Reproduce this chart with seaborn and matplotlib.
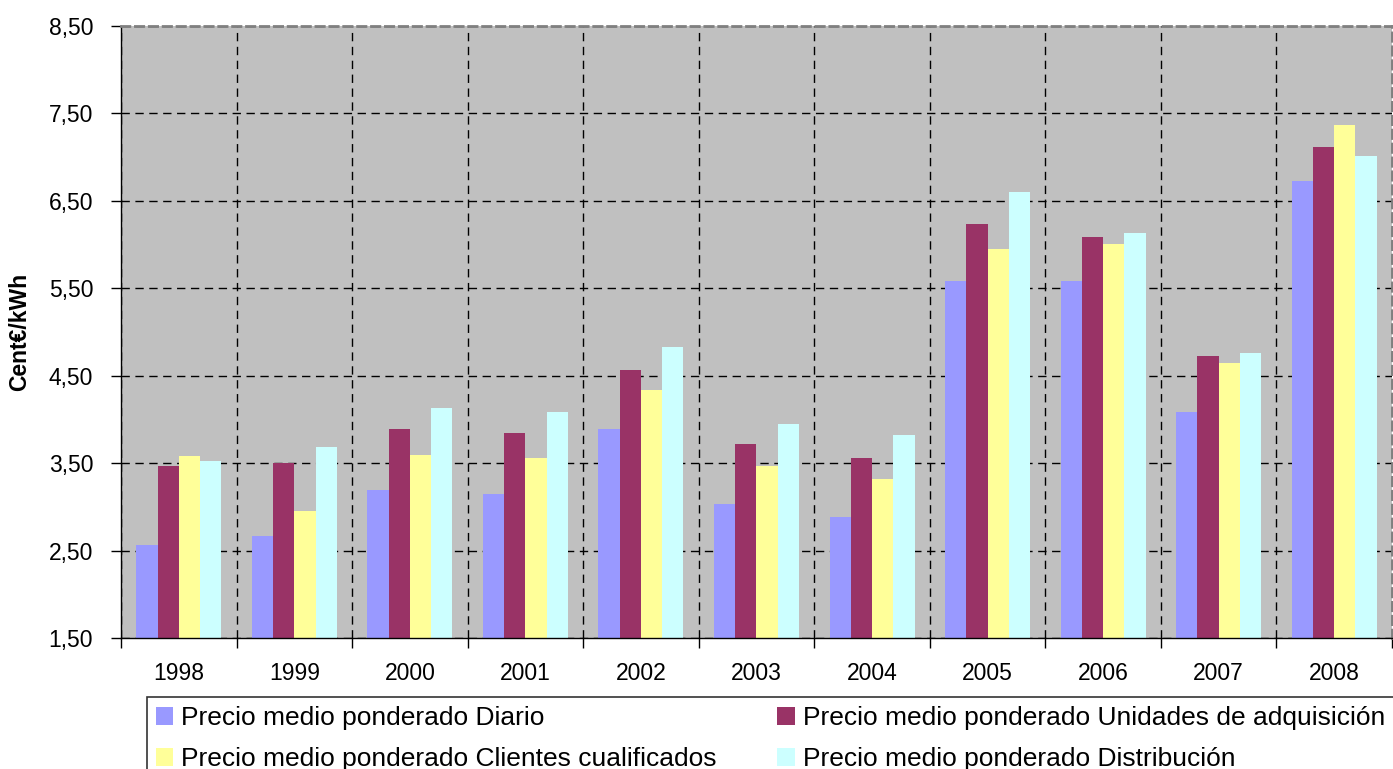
import pandas as pd
import seaborn as sns
import matplotlib.pyplot as plt
from matplotlib.ticker import FuncFormatter, FixedLocator

# Data (cent€/kWh)
years = ['1998', '1999', '2000', '2001', '2002', '2003', '2004', '2005', '2006', '2007', '2008']
diario = [2.56, 2.67, 3.19, 3.15, 3.89, 3.03, 2.88, 5.58, 5.58, 4.08, 6.73]
unidades = [3.47, 3.50, 3.89, 3.84, 4.56, 3.72, 3.56, 6.24, 6.09, 4.73, 7.12]
clientes = [3.58, 2.95, 3.59, 3.56, 4.34, 3.47, 3.32, 5.95, 6.01, 4.65, 7.37]
distribucion = [3.52, 3.69, 4.13, 4.08, 4.83, 3.95, 3.82, 6.60, 6.13, 4.76, 7.01]
y_ticks = [1.5, 2.5, 3.5, 4.5, 5.5, 6.5, 7.5, 8.5]

series_names = ['Precio medio ponderado Diario',
                'Precio medio ponderado Unidades de adquisición',
                'Precio medio ponderado Clientes cualificados',
                'Precio medio ponderado Distribución']
colors = ['#9999FF', '#993366', '#FFFF99', '#CCFFFF']

# long format for seaborn
frames = []
for name, vals in zip(series_names, [diario, unidades, clientes, distribucion]):
    frames.append(pd.DataFrame({'Año': years, 'Valor': vals, 'Serie': name}))
df = pd.concat(frames, ignore_index=True)

plt.rcParams['font.family'] = ['Liberation Sans', 'DejaVu Sans']

fig = plt.figure(figsize=(13.93, 7.69), dpi=100)
ax = fig.add_axes([0.08686, 0.17035, 0.9124, 0.7958])
ax.set_facecolor('#C0C0C0')

sns.barplot(data=df, x='Año', y='Valor', hue='Serie', hue_order=series_names,
            palette=colors, saturation=1, width=0.736, gap=0, ax=ax, legend=True)

ax.set_ylim(1.5, 8.5)
ax.set_xlim(-0.5, len(years) - 0.5)
ax.yaxis.set_major_locator(FixedLocator(y_ticks))
ax.yaxis.set_major_formatter(FuncFormatter(lambda v, p: f'{v:.2f}'.replace('.', ',')))

# category boundaries for the vertical grid and x ticks
ax.xaxis.set_minor_locator(FixedLocator([i - 0.5 for i in range(len(years) + 1)]))
ax.tick_params(axis='x', which='major', length=0, labelsize=16.5, pad=17)
ax.tick_params(axis='x', which='minor', length=7, width=1, color='black', direction='out')
ax.tick_params(axis='y', which='major', length=7, width=1, color='black', labelsize=16.5, pad=13)

ax.grid(True, axis='y', which='major', color='black', linestyle=(0, (6, 4)), linewidth=1)
ax.grid(True, axis='x', which='minor', color='black', linestyle=(0, (6, 4)), linewidth=1)
ax.grid(False, axis='x', which='major')
ax.set_axisbelow(True)

for side in ['top', 'right']:
    ax.spines[side].set_color('#808080')
    ax.spines[side].set_linestyle((0, (3, 2)))
    ax.spines[side].set_linewidth(2)
ax.spines['left'].set_color('black')
ax.spines['left'].set_linewidth(1)
ax.spines['bottom'].set_color('black')
ax.spines['bottom'].set_linewidth(1)

ax.set_xlabel('')
ax.set_ylabel('Cent€/kWh', fontsize=16.5, fontweight='bold')
ax.yaxis.set_label_coords(-0.0705, 0.5)

# legend below, two columns
handles, labels = ax.get_legend_handles_labels()
ax.get_legend().remove()
order = [0, 2, 1, 3]
leg = fig.legend([handles[i] for i in order], [labels[i] for i in order],
                 ncol=2, loc='upper left', bbox_to_anchor=(0.1055, 0.0936),
                 fontsize=19, frameon=True, fancybox=False, edgecolor='black',
                 handlelength=0.65, handleheight=0.65, handletextpad=0.3,
                 columnspacing=2.3, borderpad=0.35, borderaxespad=0,
                 labelspacing=0.65)
leg.get_frame().set_linewidth(1.2)

plt.savefig('out.png', dpi=100)
